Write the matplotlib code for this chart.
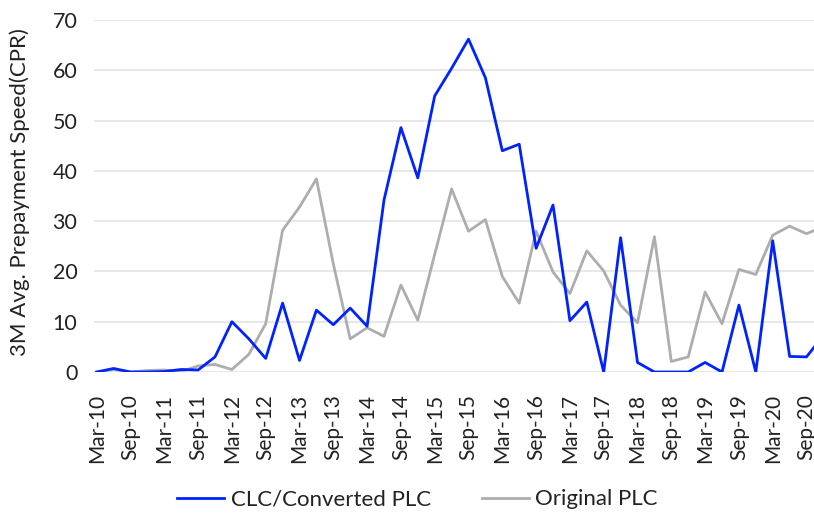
import numpy as np
from matplotlib import pyplot as plt

plt.rcParams['font.family'] = ['Lato', 'DejaVu Sans']

# quarterly labels, Mar-10 .. Dec-20
quarters = []
for yr in range(10, 21):
    for m in ["Mar", "Jun", "Sep", "Dec"]:
        quarters.append(f"{m}-{yr}")

clc = [0.0, 0.7, 0.0, 0.0, 0.1, 0.5, 0.4, 3.0, 10.0, 6.6,
       2.7, 13.7, 2.3, 12.3, 9.4, 12.7, 9.1, 34.2, 48.6, 38.6,
       54.9, 60.4, 66.2, 58.5, 44.0, 45.3, 24.6, 33.2, 10.2, 13.9,
       0.0, 26.7, 1.9, 0.0, 0.0, 0.0, 1.9, 0.0, 13.3, 0.0,
       26.1, 3.1, 3.0, 7.3]

original = [0.0, 0.5, 0.0, 0.3, 0.4, 0.1, 1.2, 1.5, 0.5, 3.5,
            9.6, 28.2, 32.8, 38.4, 21.5, 6.6, 8.8, 7.1, 17.3, 10.3,
            23.4, 36.4, 28.0, 30.3, 19.0, 13.7, 28.0, 19.9, 15.6, 24.1,
            20.1, 13.3, 9.8, 26.9, 2.1, 3.0, 15.9, 9.6, 20.4, 19.4,
            27.2, 29.0, 27.5, 28.9]

x = np.arange(len(quarters))

fig = plt.figure(figsize=(8.14, 5.14), dpi=100)
# the original picture is cut off on the right, so the axes run past the edge
ax = fig.add_axes([94 / 814, 1 - 372 / 514, (823.4 - 94) / 814, (372 - 20) / 514])

ax.plot(x, clc, color="#0022FF", lw=2.0, label="CLC/Converted PLC", zorder=3)
ax.plot(x, original, color="#ADADAD", lw=2.0, label="Original PLC", zorder=2)

ax.set_xlim(-0.16, len(quarters) - 1)
ax.set_ylim(0, 70)
ax.set_yticks(range(0, 71, 10))
ax.set_xticks(x[::2])
ax.set_xticklabels(quarters[::2], rotation=90, fontsize=15, color="#222222")
ax.tick_params(axis="y", labelsize=15.5, labelcolor="#222222", length=0, pad=12)
ax.tick_params(axis="x", length=0, pad=16)
ax.grid(axis="y", color="#E8E8E8", lw=1.5)
ax.set_axisbelow(True)
for s in ax.spines.values():
    s.set_visible(False)

ax.set_ylabel("3M Avg. Prepayment Speed(CPR)", fontsize=16, color="#222222", va="center")
ax.yaxis.set_label_coords(-0.102, 0.51)

fig.legend(loc="lower center", bbox_to_anchor=(0.513, -0.03), ncol=2, frameon=False,
           fontsize=16, handlelength=2.1, handletextpad=0.3, columnspacing=2.3,
           labelcolor="#222222")

fig.savefig("out.png", dpi=100)
